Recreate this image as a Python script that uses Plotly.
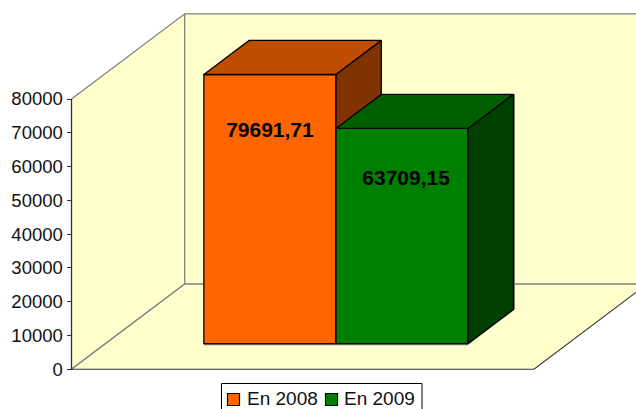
import plotly.graph_objects as go

series_names = ["En 2008", "En 2009"]
series_values = [79691.71, 63709.15]
tick_values = [0, 10000, 20000, 30000, 40000, 50000, 60000, 70000, 80000]
front_colors = ["#FF6600", "#008000"]
top_colors = ["#BF4D00", "#006000"]
side_colors = ["#803300", "#004000"]

W, H = 636, 409
X0_PX, X1_PX = 71.5, 534.0      # floor front edge
Y0_PX, Y80K_PX = 369.2, 99.0    # value axis
PX_PER_UNIT = (Y0_PX - Y80K_PX) / 80000
DEPTH_X_PX, DEPTH_Y_PX = 113.2, 85.2
XSPAN = X1_PX - X0_PX
DX = DEPTH_X_PX / XSPAN
DY = DEPTH_Y_PX / PX_PER_UNIT
BAR_W = 1 / (2 + 1.5)
CENTER = 0.5 - 0.7 / XSPAN
D_FRONT, D_BACK = 0.30, 0.70
LABEL_DROP = [57 / PX_PER_UNIT, 51 / PX_PER_UNIT]
LABEL_SHIFT = [0.0, 4.0 / XSPAN]
WALL = "#FFFFCC"
GREY = "#808080"
EDGE = "#000000"
FONT = "Liberation Sans"


def p(x, y, d):
    return x + d * DX, y + d * DY


def poly(pts, fill, line, width=1.0, xa="x", ya="y", close=True):
    pts = [p(*q) for q in pts]
    if close:
        pts = pts + [pts[0]]
    return go.Scatter(
        x=[q[0] for q in pts], y=[q[1] for q in pts], mode="lines",
        fill="toself" if fill else None, fillcolor=fill,
        line=dict(color=line, width=width) if line else dict(width=0),
        xaxis=xa, yaxis=ya, showlegend=False, hoverinfo="skip",
    )


top = 80000
fig = go.Figure()
# walls and floor
fig.add_trace(poly([(0, 0, 0), (0, top, 0), (0, top, 1), (0, 0, 1)], WALL, None))
fig.add_trace(poly([(0, 0, 1), (0, top, 1), (1.2, top, 1), (1.2, 0, 1)], WALL, None))
fig.add_trace(poly([(0, 0, 0), (1, 0, 0), (1, 0, 1), (0, 0, 1)], WALL, None))
fig.add_trace(poly([(0, top, 0), (0, top, 1), (1.2, top, 1)], None, GREY, 1.3, close=False))
fig.add_trace(poly([(0, top, 1), (0, 0, 1)], None, GREY, 1.3, close=False))
fig.add_trace(poly([(0, 0, 0), (0, 0, 1), (1.2, 0, 1)], None, GREY, 1.5, close=False))
fig.add_trace(poly([(0, 0, 0), (1, 0, 0), (1, 0, 1)], None, "#303030", 1.1, close=False))
fig.add_trace(poly([(0, 0, 0), (0, top, 0)], None, "#303030", 1.3, close=False))

# soft grey edge that the bars leave on the floor and the back wall
one_px_x, one_px_y = 1 / XSPAN, 1 / PX_PER_UNIT
g_left, g_right = CENTER - BAR_W, CENTER + BAR_W
fig.add_trace(poly([(g_left, -one_px_y, D_FRONT), (g_right, -one_px_y, D_FRONT)], None, GREY, 1.2, close=False))
fig.add_trace(poly([(g_right + one_px_x, 0, D_BACK), (g_right + one_px_x, series_values[1], D_BACK)],
                   None, GREY, 1.2, close=False))

for i, (name, v) in enumerate(zip(series_names, series_values)):
    xa, ya = ("x2", "y2") if i == 0 else ("x3", "y3")
    left = CENTER - BAR_W + i * BAR_W
    right = left + BAR_W
    bx, base = p(left + BAR_W / 2, 0, D_FRONT)
    fig.add_trace(go.Bar(
        x=[bx], y=[v], base=[base], width=[BAR_W], name=name,
        marker=dict(color=front_colors[i], line=dict(color=EDGE, width=1.3)),
        xaxis=xa, yaxis=ya, hoverinfo="skip", showlegend=False,
    ))
    fig.add_trace(poly([(left, v, D_FRONT), (right, v, D_FRONT), (right, v, D_BACK), (left, v, D_BACK)],
                       top_colors[i], EDGE, 1.3, xa, ya))
    fig.add_trace(poly([(right, 0, D_FRONT), (right, v, D_FRONT), (right, v, D_BACK), (right, 0, D_BACK)],
                       side_colors[i], EDGE, 1.3, xa, ya))
    label = f"{v:.2f}".replace(".", ",")
    lx, ly = p(left + BAR_W / 2 + LABEL_SHIFT[i], v - LABEL_DROP[i], D_FRONT)
    fig.add_trace(go.Scatter(
        x=[lx], y=[ly], mode="text", text=[label], textposition="middle center",
        textfont=dict(family=FONT, size=21, color="#000000", weight="bold"),
        xaxis=xa, yaxis=ya, showlegend=False, hoverinfo="skip",
    ))

x_range = [-X0_PX / XSPAN, (W - X0_PX) / XSPAN]
y_range = [-(H - Y0_PX) / PX_PER_UNIT, Y0_PX / PX_PER_UNIT]
hidden = dict(visible=False, showgrid=False, zeroline=False, fixedrange=True)


# legend box, drawn in page coordinates because it runs off the bottom edge
def px(x):
    return x / W


def py(y):
    return (H - y) / H


shapes = [dict(type="rect", xref="paper", yref="paper", x0=px(221.5), x1=px(422),
               y0=py(416), y1=py(383.5), fillcolor="#FFFFFF",
               line=dict(color="#000000", width=1), layer="above")]
annotations = []
swatch_x = [227.5, 325.5]
text_x = [245.5, 343.0]
for name, color, sx, tx in zip(series_names, front_colors, swatch_x, text_x):
    shapes.append(dict(type="rect", xref="paper", yref="paper", x0=px(sx), x1=px(sx + 12),
                       y0=py(405.5), y1=py(393.5), fillcolor=color,
                       line=dict(color="#000000", width=1.2), layer="above"))
    annotations.append(dict(xref="paper", yref="paper", x=px(tx), y=py(398.5), text=name,
                            xanchor="left", yanchor="middle", showarrow=False, borderpad=0,
                            font=dict(family=FONT, size=19, color="#111111")))

fig.update_layout(
    width=W, height=H,
    margin=dict(l=0, r=0, t=0, b=0, autoexpand=False),
    paper_bgcolor="#FFFFFF", plot_bgcolor="#FFFFFF",
    barmode="overlay",
    font=dict(family=FONT, color="#111111", size=18.5),
    xaxis=dict(hidden, range=x_range, domain=[0, 1]),
    xaxis2=dict(hidden, range=x_range, overlaying="x"),
    xaxis3=dict(hidden, range=x_range, overlaying="x"),
    yaxis=dict(
        range=y_range, domain=[0, 1], anchor="free", position=X0_PX / W,
        tickmode="array", tickvals=tick_values, ticktext=[str(t) for t in tick_values],
        ticks="outside", ticklen=5, tickwidth=1, tickcolor="#303030",
        showline=False, showgrid=False, zeroline=False, fixedrange=True,
        tickfont=dict(family=FONT, size=18.5, color="#111111"),
    ),
    yaxis2=dict(hidden, range=y_range, overlaying="y"),
    yaxis3=dict(hidden, range=y_range, overlaying="y"),
    shapes=shapes,
    annotations=annotations,
    showlegend=False,
)

fig.write_html("out.html", config={"displayModeBar": False},
               post_script="document.body.style.margin='0';document.documentElement.style.overflow='hidden';")
